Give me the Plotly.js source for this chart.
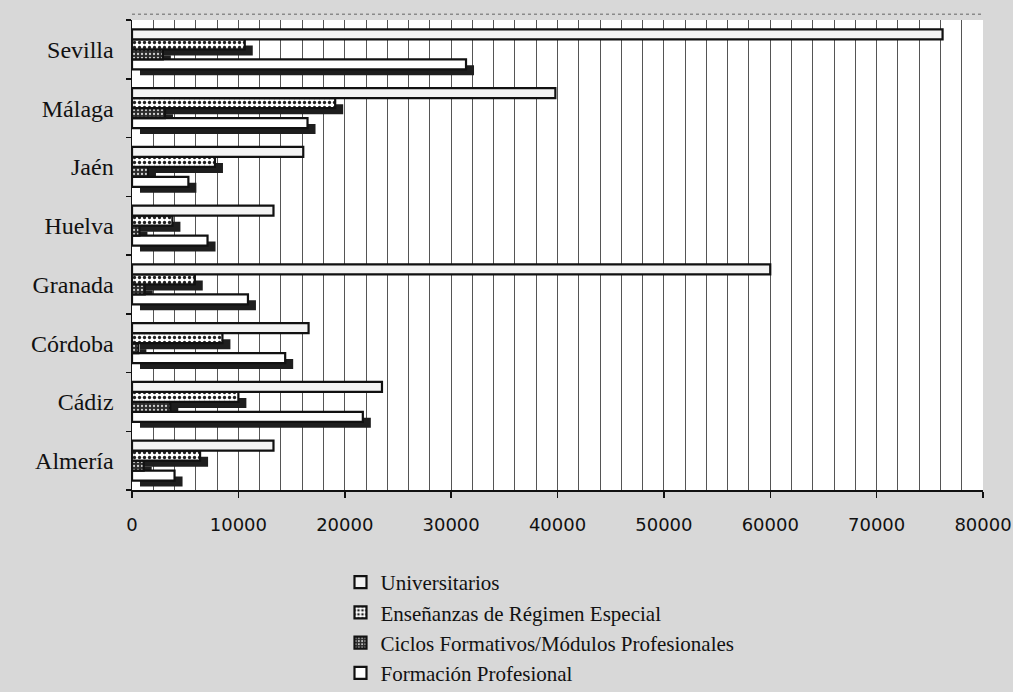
<!DOCTYPE html>
<html>
<head>
<meta charset="utf-8">
<script src="https://cdn.plot.ly/plotly-3.0.1.min.js"></script>
<style>
  html, body { margin: 0; padding: 0; background: #d8d8d8; }
  #chart { width: 1013px; height: 692px; }
</style>
</head>
<body>
<div id="chart"></div>
<script>
// Provinces, bottom to top on the category axis
const provincias = ['Almería', 'Cádiz', 'Córdoba', 'Granada', 'Huelva', 'Jaén', 'Málaga', 'Sevilla'];

// Students per province and type of study
const universitarios   = [13300, 23500, 16600, 60000, 13300, 16100, 39800, 76200];
const regimenEspecial  = [6400, 10000, 8500, 5900, 3800, 7800, 19100, 10600];
const ciclosFormativos = [1100, 3600, 600, 1200, 700, 1500, 3100, 2900];
const formacionProf    = [4000, 21700, 14400, 10900, 7100, 5300, 16500, 31400];

const seriesNames = ['Universitarios', 'Enseñanzas de Régimen Especial',
                     'Ciclos Formativos/Módulos Profesionales', 'Formación Profesional'];

// drop-shadow offset, in pixels
const plotW = 851, plotH = 470, xMax = 80000;
const shadowDx = 8, shadowDy = 6;
const dxUnits = shadowDx / plotW * xMax;
const dyUnits = shadowDy / plotH * provincias.length;

const outline = { color: '#111', width: 2.2 };

// the real bars (drawn on the overlay axes so they sit above the shadows);
// first trace is the bottom bar of each group
const bars = [
  { name: seriesNames[3], x: formacionProf,
    marker: { color: '#ffffff', line: outline } },
  { name: seriesNames[2], x: ciclosFormativos,
    marker: { color: '#2b2b2b', line: outline,
              pattern: { shape: '.', fgcolor: '#d0d0d0', bgcolor: '#2b2b2b', size: 4, solidity: 0.25 } } },
  { name: seriesNames[1], x: regimenEspecial,
    marker: { color: '#ffffff', line: outline,
              pattern: { shape: '.', fgcolor: '#222', bgcolor: '#ffffff', size: 5, solidity: 0.35 } } },
  { name: seriesNames[0], x: universitarios,
    marker: { color: '#f3f3f3', line: outline } }
].map(t => Object.assign({
  type: 'bar', orientation: 'h', y: provincias,
  xaxis: 'x2', yaxis: 'y2', hoverinfo: 'x+name'
}, t));

// shadows: same values, on a base axis pair shifted right and down
const shadowSeries = [formacionProf, ciclosFormativos, regimenEspecial, null];
const shadows = shadowSeries.map(vals => ({
  type: 'bar', orientation: 'h', y: provincias,
  x: vals ? vals : universitarios.map(() => 0),
  marker: { color: '#1e1e1e', line: { width: 0 } },
  showlegend: false, hoverinfo: 'skip',
  xaxis: 'x', yaxis: 'y'
}));

const serif = 'Liberation Serif, Times New Roman, serif';

const layout = {
  width: 1013, height: 692,
  margin: { l: 132, r: 30, t: 20, b: 202, autoexpand: false },
  paper_bgcolor: '#d8d8d8',
  plot_bgcolor: '#ffffff',
  barmode: 'group',
  bargap: 0.32,
  bargroupgap: 0,
  showlegend: true,
  legend: {
    traceorder: 'reversed',
    orientation: 'v',
    x: 0.245, xanchor: 'left',
    yref: 'container', y: 0.188, yanchor: 'top',
    bgcolor: 'rgba(0,0,0,0)',
    font: { family: serif, size: 21, color: '#111' },
    itemwidth: 30,
    tracegroupgap: 0
  },
  // base axes carry only the shadows
  xaxis: {
    range: [-dxUnits, xMax - dxUnits],
    showgrid: false, zeroline: false, showline: false,
    showticklabels: false, ticks: '', fixedrange: true
  },
  yaxis: {
    type: 'category', categoryorder: 'array', categoryarray: provincias,
    range: [-0.5 + dyUnits, provincias.length - 0.5 + dyUnits],
    showgrid: false, zeroline: false, showline: false,
    showticklabels: false, ticks: '', fixedrange: true
  },
  // visible value axis
  xaxis2: {
    overlaying: 'x', anchor: 'y2', side: 'bottom',
    range: [0, xMax], dtick: 10000, tick0: 0, tickformat: 'd',
    showgrid: true, gridcolor: '#555', gridwidth: 1,
    minor: { dtick: 2000, showgrid: true, gridcolor: '#555', gridwidth: 1 },
    zeroline: false,
    showline: true, linecolor: '#111', linewidth: 1.5,
    ticks: 'outside', ticklen: 6, tickcolor: '#111', tickwidth: 1.5,
    ticklabelstandoff: 12,
    tickfont: { family: 'DejaVu Sans, sans-serif', size: 18, color: '#111' },
    fixedrange: true
  },
  yaxis2: {
    overlaying: 'y', anchor: 'x2', side: 'left',
    type: 'category', categoryorder: 'array', categoryarray: provincias,
    range: [-0.5, provincias.length - 0.5],
    tickson: 'boundaries',
    showgrid: false, zeroline: false,
    showline: true, linecolor: '#111', linewidth: 1.5,
    ticks: 'outside', ticklen: 5, tickcolor: '#111', tickwidth: 1.5,
    ticklabelstandoff: 12,
    tickfont: { family: serif, size: 24, color: '#111' },
    fixedrange: true
  },
  shapes: [
    { type: 'line', xref: 'paper', yref: 'paper', x0: 0, x1: 1, y0: 1.012, y1: 1.012,
      line: { color: '#8a8a8a', width: 1.5, dash: 'dot' } }
  ]
};

Plotly.newPlot('chart', shadows.concat(bars), layout, { displayModeBar: false, staticPlot: true });
</script>
</body>
</html>
